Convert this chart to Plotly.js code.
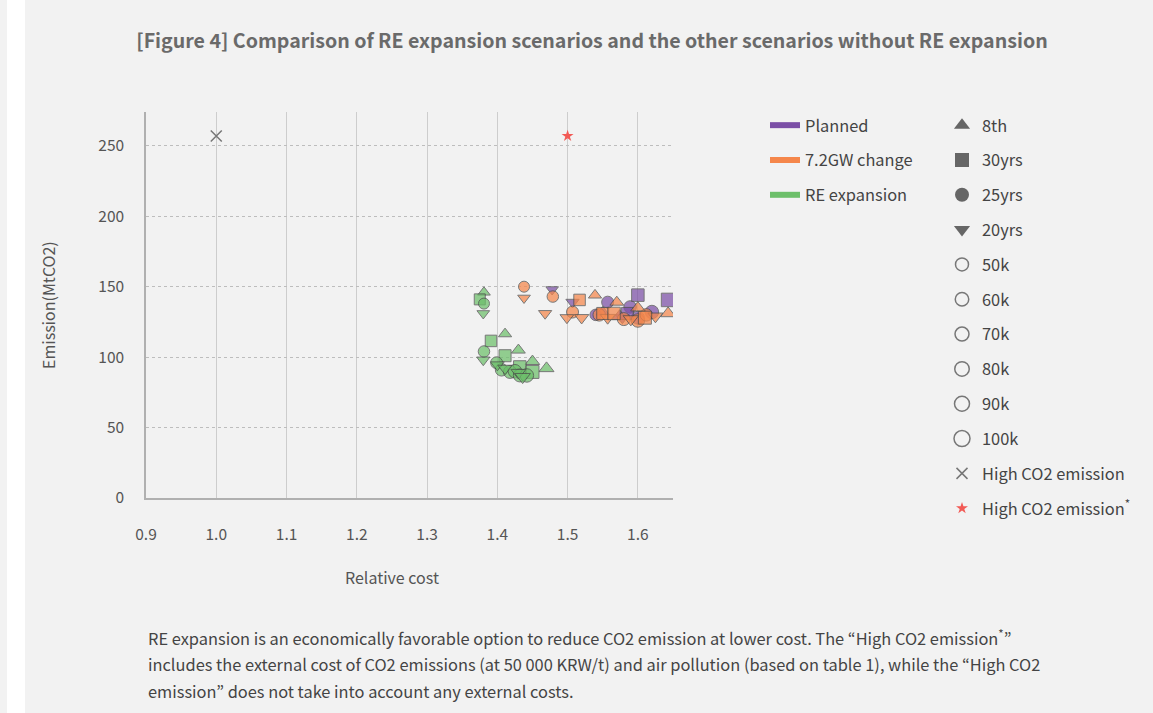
<!DOCTYPE html>
<html>
<head>
<meta charset="utf-8">
<script src="https://cdn.plot.ly/plotly-3.0.1.min.js"></script>
<style>
  html, body { margin: 0; padding: 0; background: #ffffff; }
  #wrap { position: relative; width: 1153px; height: 713px; overflow: hidden; }
  #chart { position: absolute; left: 0; top: 0; width: 1153px; height: 713px; }
  .strip { position: absolute; background: #ffffff; pointer-events: none; }
</style>
</head>
<body>
<div id="wrap">
  <div id="chart"></div>
  <div class="strip" style="left:7px;top:0;width:18px;height:713px;"></div>
</div>
<script>
// ---------------- data ----------------
var seriesNames = ["Planned", "7.2GW change", "RE expansion"];
var typeNames = ["8th", "30yrs", "25yrs", "20yrs"];
var priceNames = ["50k", "60k", "70k", "80k", "90k", "100k"];

// RE expansion
var re_cost  = [1.381, 1.411, 1.430, 1.450, 1.470,
                1.375, 1.391, 1.411, 1.432, 1.450,
                1.381, 1.381, 1.399, 1.406, 1.418, 1.425, 1.432, 1.442,
                1.380, 1.380, 1.400, 1.411, 1.430, 1.436];
var re_emis  = [146, 116.5, 105, 97, 92,
                141, 111.5, 101, 93, 89.5,
                138, 104, 96, 91, 89.5, 90, 87, 87,
                131, 98, 94.5, 92, 89, 86];
var re_type  = ["8th","8th","8th","8th","8th",
                "30yrs","30yrs","30yrs","30yrs","30yrs",
                "25yrs","25yrs","25yrs","25yrs","25yrs","25yrs","25yrs","25yrs",
                "20yrs","20yrs","20yrs","20yrs","20yrs","20yrs"];
var re_price = ["50k","60k","70k","80k","90k",
                "50k","60k","70k","80k","90k",
                "50k","60k","70k","80k","90k","100k","90k","100k",
                "50k","60k","70k","80k","90k","100k"];

// 7.2GW change
var gw_cost  = [1.438, 1.479, 1.507, 1.545, 1.580, 1.600, 1.612,
                1.438, 1.468, 1.499, 1.520, 1.557, 1.590, 1.625,
                1.517, 1.550, 1.566, 1.610,
                1.539, 1.570, 1.600, 1.643];
var gw_emis  = [150, 143, 132, 130, 127, 126, 130,
                142, 131, 128, 128, 128, 127, 129,
                140.6, 131, 131, 128,
                144, 139, 135, 131];
var gw_type  = ["25yrs","25yrs","25yrs","25yrs","25yrs","25yrs","25yrs",
                "20yrs","20yrs","20yrs","20yrs","20yrs","20yrs","20yrs",
                "30yrs","30yrs","30yrs","30yrs",
                "8th","8th","8th","8th"];
var gw_price = ["50k","60k","70k","80k","90k","100k","80k",
                "50k","60k","70k","80k","90k","100k","90k",
                "60k","70k","80k","90k",
                "60k","70k","80k","90k"];

// Planned
var pl_cost  = [1.478, 1.507, 1.578,
                1.540, 1.557, 1.589, 1.600, 1.620,
                1.600, 1.643, 1.585,
                1.550, 1.574];
var pl_emis  = [148, 139, 128,
                130, 139, 135.6, 128, 132,
                144, 140.6, 131,
                132, 129];
var pl_type  = ["20yrs","20yrs","20yrs",
                "25yrs","25yrs","25yrs","25yrs","25yrs",
                "30yrs","30yrs","30yrs",
                "8th","8th"];
var pl_price = ["50k","60k","70k",
                "60k","70k","80k","90k","100k",
                "80k","100k","70k",
                "60k","90k"];

// reference scenarios
var high_cost = [1.0];
var high_emis = [257];
var highStar_cost = [1.5];
var highStar_emis = [257];

// ---------------- styles ----------------
var colors = {"Planned": "#7b4fa6", "7.2GW change": "#f5874b", "RE expansion": "#6cbf6a"};
var symbols = {"8th": "triangle-up", "30yrs": "square", "25yrs": "circle", "20yrs": "triangle-down"};
var sizes = {"50k": 11, "60k": 11.5, "70k": 12, "80k": 12.5, "90k": 13, "100k": 13.5};
var legendSizes = {"50k": 13, "60k": 13.5, "70k": 14, "80k": 14.5, "90k": 15, "100k": 16};
var FONT = "'Noto Sans CJK KR', 'Noto Sans', sans-serif";

function dataTrace(name, xs, ys, types, prices) {
  return {
    type: "scatter", mode: "markers", name: name, x: xs, y: ys,
    showlegend: false, hoverinfo: "x+y+name",
    marker: {
      color: colors[name],
      symbol: types.map(function (t) { return symbols[t]; }),
      size: prices.map(function (p) { return sizes[p]; }),
      opacity: 0.72,
      line: {color: "#4a4a4a", width: 1}
    }
  };
}

var traces = [];
traces.push(dataTrace("Planned", pl_cost, pl_emis, pl_type, pl_price));
traces.push(dataTrace("7.2GW change", gw_cost, gw_emis, gw_type, gw_price));
traces.push(dataTrace("RE expansion", re_cost, re_emis, re_type, re_price));

// colour legend (left column)
seriesNames.forEach(function (s) {
  traces.push({
    type: "scatter", mode: "lines", name: s, x: [null], y: [null],
    line: {color: colors[s], width: 6}, legend: "legend", legendgroup: "c_" + s,
    hoverinfo: "skip"
  });
});
// shape legend (right column)
typeNames.forEach(function (t) {
  traces.push({
    type: "scatter", mode: "markers", name: t, x: [null], y: [null],
    marker: {symbol: symbols[t], color: "#666666", size: 14},
    legend: "legend2", legendgroup: "t_" + t, hoverinfo: "skip"
  });
});
priceNames.forEach(function (p) {
  traces.push({
    type: "scatter", mode: "markers", name: p, x: [null], y: [null],
    marker: {symbol: "circle-open", color: "#777777", size: legendSizes[p], line: {width: 1.5}},
    legend: "legend2", legendgroup: "p_" + p, hoverinfo: "skip"
  });
});
traces.push({
  type: "scatter", mode: "markers", name: "High CO2 emission", x: high_cost, y: high_emis,
  marker: {symbol: "x-thin-open", color: "#777777", size: 11, line: {width: 1.5, color: "#777777"}},
  legend: "legend2", legendgroup: "h1"
});
traces.push({
  type: "scatter", mode: "markers", name: "High CO2 emission<sup>*</sup>", x: highStar_cost, y: highStar_emis,
  marker: {symbol: "star", color: "#f25a55", size: 9},
  legend: "legend2", legendgroup: "h2"
});

// ---------------- layout ----------------
var L = 146, R = 673, T = 112, B = 498;
function px2x(px) { return (px - L) / (R - L); }
function px2y(py) { return (B - py) / (B - T); }

var layout = {
  width: 1153, height: 713, autosize: false,
  paper_bgcolor: "#f2f2f2", plot_bgcolor: "#f2f2f2",
  margin: {l: L, r: 1153 - R, t: T, b: 713 - B, pad: 0},
  font: {family: FONT, color: "#555555", size: 15},
  title: {
    text: "[Figure 4] Comparison of RE expansion scenarios and the other scenarios without RE expansion",
    font: {family: FONT, size: 19.6, color: "#6a6a6a", weight: 700},
    x: 592 / 1153, xanchor: "center", y: 1 - 41 / 713, yanchor: "middle", xref: "container", yref: "container"
  },
  xaxis: {
    range: [0.9, 1.65], tick0: 0.9, dtick: 0.1, tickformat: ".1f",
    showgrid: true, gridcolor: "#cdcdcd", gridwidth: 1,
    zeroline: false, showline: true, linecolor: "#b0b0b0", linewidth: 1.5,
    ticks: "", ticklabelstandoff: 22,
    tickfont: {family: FONT, size: 15.5, color: "#555555"}
  },
  yaxis: {
    range: [0, 274], tick0: 0, dtick: 50,
    showgrid: true, gridcolor: "#bdbdbd", gridwidth: 1, griddash: "dot",
    zeroline: false, showline: true, linecolor: "#b0b0b0", linewidth: 1.5,
    ticks: "", ticklabelstandoff: 17,
    tickfont: {family: FONT, size: 15.5, color: "#555555"}
  },
  legend: {
    x: px2x(765), xanchor: "left", y: px2y(108), yanchor: "top", maxheight: 650,
    bgcolor: "rgba(0,0,0,0)", font: {family: FONT, size: 16.4, color: "#444444"},
    traceorder: "grouped", tracegroupgap: 10.5, itemclick: false, itemdoubleclick: false
  },
  legend2: {
    x: px2x(942), xanchor: "left", y: px2y(108), yanchor: "top", maxheight: 650,
    bgcolor: "rgba(0,0,0,0)", font: {family: FONT, size: 16.4, color: "#444444"},
    traceorder: "grouped", tracegroupgap: 10.5, itemsizing: "trace", itemclick: false, itemdoubleclick: false
  },
  annotations: [
    {text: "Relative cost", xref: "paper", yref: "paper", x: px2x(392), y: px2y(577),
     xanchor: "center", yanchor: "middle", showarrow: false, font: {family: FONT, size: 16, color: "#555555"}},
    {text: "Emission(MtCO2)", xref: "paper", yref: "paper", x: px2x(48), y: px2y(305),
     xanchor: "center", yanchor: "middle", textangle: -90, showarrow: false, font: {family: FONT, size: 16, color: "#555555"}},
    {text: "RE expansion is an economically favorable option to reduce CO2 emission at lower cost. The \u201cHigh CO2 emission<sup>*</sup>\u201d",
     xref: "paper", yref: "paper", x: px2x(146), y: px2y(637), xanchor: "left", yanchor: "middle", showarrow: false,
     font: {family: FONT, size: 16.4, color: "#444444"}},
    {text: "includes the external cost of CO2 emissions (at 50 000 KRW/t) and air pollution (based on table 1), while the \u201cHigh CO2",
     xref: "paper", yref: "paper", x: px2x(146), y: px2y(664), xanchor: "left", yanchor: "middle", showarrow: false,
     font: {family: FONT, size: 16.4, color: "#444444"}},
    {text: "emission\u201d does not take into account any external costs.",
     xref: "paper", yref: "paper", x: px2x(146), y: px2y(691), xanchor: "left", yanchor: "middle", showarrow: false,
     font: {family: FONT, size: 16.4, color: "#444444"}}
  ]
};

Plotly.newPlot("chart", traces, layout, {displayModeBar: false, staticPlot: false, responsive: false});
</script>
</body>
</html>
